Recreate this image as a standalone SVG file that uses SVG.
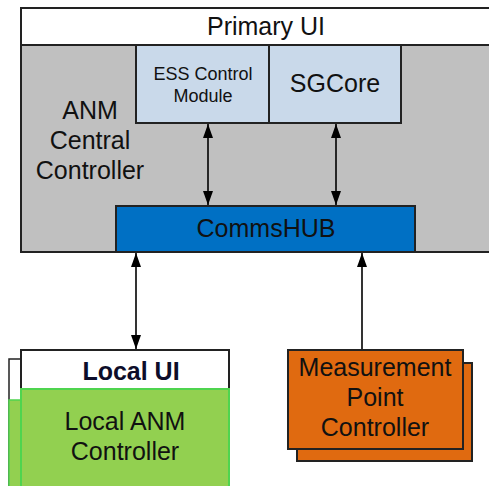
<svg xmlns="http://www.w3.org/2000/svg" width="489" height="486" viewBox="0 0 489 486">
<defs>
<marker id="ah" viewBox="0 0 14 10" refX="14" refY="5" markerWidth="14" markerHeight="10" markerUnits="userSpaceOnUse" orient="auto-start-reverse">
<path d="M0,0 L14,5 L0,10 Z" fill="#000"/>
</marker>
</defs>
<style>
text{font-family:"Liberation Sans",Arial,sans-serif;font-size:25px;fill:#111;text-anchor:middle}
.b{stroke:#222;stroke-width:2}
.c{stroke:#000;stroke-width:1.6;fill:none}
</style>
<rect width="489" height="486" fill="#fff"/>
<g id="primary-ui">
<rect class="b" x="21" y="8" width="470" height="37" fill="#fff"/>
<text x="266" y="35">Primary UI</text>
</g>
<g id="anm-central">
<rect class="b" x="21" y="45" width="470" height="207" fill="#c0c0c0"/>
<text x="90" y="119">ANM</text>
<text x="90" y="149">Central</text>
<text x="90" y="179">Controller</text>
</g>
<g id="ess">
<rect class="b" x="136" y="45" width="133" height="78" fill="#c9d9ea"/>
<text x="203" y="80" style="font-size:18px">ESS Control</text>
<text x="203" y="102" style="font-size:18px">Module</text>
</g>
<g id="sgcore">
<rect class="b" x="269" y="45" width="132" height="78" fill="#c9d9ea"/>
<text x="335" y="92">SGCore</text>
</g>
<g id="commshub">
<rect class="b" x="116" y="206" width="299" height="46" fill="#0070c4"/>
<text x="266" y="237">CommsHUB</text>
</g>
<g id="local">
<rect x="9" y="359" width="14" height="130" fill="#fff" stroke="#222" stroke-width="1.5"/>
<rect x="9" y="400" width="14" height="89" fill="#92d050" stroke="#4fd44f" stroke-width="1.5"/>
<rect x="21" y="350" width="208" height="39" fill="#fff" stroke="#222" stroke-width="2"/>
<rect x="21" y="389" width="208" height="100" fill="#92d050" stroke="#4fd44f" stroke-width="2"/>
<text x="131" y="380" style="font-weight:bold;fill:#0d0d2a">Local UI</text>
<text x="125" y="430">Local ANM</text>
<text x="125" y="460">Controller</text>
</g>
<g id="measurement">
<rect class="b" x="297" y="363" width="175" height="98" fill="#e06a10"/>
<rect class="b" x="288" y="350" width="175" height="99" fill="#e06a10"/>
<text x="375" y="376">Measurement</text>
<text x="375" y="406">Point</text>
<text x="375" y="436">Controller</text>
</g>
<g id="connectors">
<line class="c" x1="208" y1="124" x2="208" y2="205" marker-start="url(#ah)" marker-end="url(#ah)"/>
<line class="c" x1="336" y1="124" x2="336" y2="205" marker-start="url(#ah)" marker-end="url(#ah)"/>
<line class="c" x1="136" y1="253" x2="136" y2="349" marker-start="url(#ah)" marker-end="url(#ah)"/>
<line class="c" x1="362" y1="349" x2="362" y2="253" marker-end="url(#ah)"/>
</g>
</svg>
